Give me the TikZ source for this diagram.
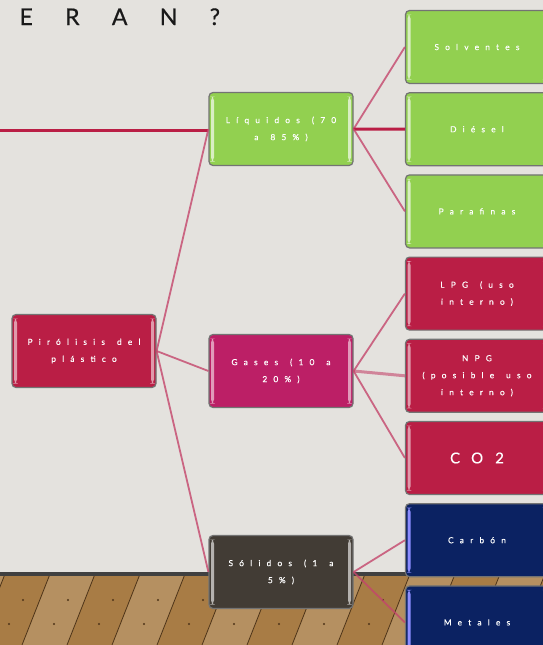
\documentclass[tikz,border=0pt]{standalone}
\usepackage{fontspec}
\usepackage{tikz}
\usetikzlibrary{positioning}
\newfontfamily\boxfont[LetterSpace=75, FakeBold=0.4]{Lato}
\newfontfamily\titlefont[LetterSpace=115, FakeBold=0.6]{Lato}
\newcommand\hueco{\hskip 12pt\relax}
\definecolor{pared}{HTML}{E4E2DE}
\definecolor{madera}{HTML}{A87C45}
\definecolor{maderaosc}{HTML}{4E3418}
\definecolor{verde}{HTML}{92D050}
\definecolor{carmin}{HTML}{BA1E45}
\definecolor{fucsia}{HTML}{BC1F66}
\definecolor{marron}{HTML}{423C35}
\definecolor{marino}{HTML}{0B2262}
\definecolor{rosa}{HTML}{C4466C}
\tikzset{
  caja/.style={rectangle, rounded corners=4pt, draw=black!55, line width=1.2pt, text=white,
    font=\boxfont\fontsize{8.3}{17}\selectfont, align=center, minimum height=73pt, inner sep=0pt},
  brillo/.style={path picture={
    \fill[#1] ([xshift=2pt,yshift=-4pt]path picture bounding box.north west) rectangle ([xshift=5pt,yshift=4pt]path picture bounding box.south west);
    \fill[#1] ([xshift=-5pt,yshift=-4pt]path picture bounding box.north east) rectangle ([xshift=-2pt,yshift=4pt]path picture bounding box.south east);}},
  medio/.style={caja, minimum width=144pt, text width=136pt},
  hoja/.style={caja, minimum width=143pt, text width=136pt},
  enlace/.style={rosa, line width=1.8pt, opacity=0.8},
  grueso/.style={carmin, line width=3pt}
}

\begin{document}
\begin{tikzpicture}[x=1pt, y=-1pt]
\clip (0,0) rectangle (543,645);
\useasboundingbox (0,0) rectangle (543,645);

% pared y suelo
\fill[pared] (0,0) rectangle (543,574);
\fill[madera] (0,574) rectangle (543,645);
\foreach \x [count=\i] in {-40,5,...,590} {
  \ifodd\i
    \fill[madera!85!white] (\x,574) -- (\x+45,574) -- (\x+17,645) -- (\x-28,645) -- cycle;
  \fi
  \draw[maderaosc, line width=0.8pt] (\x,574) -- (\x-28,645);
  \fill[maderaosc] (\x+18,600) circle (1.2pt);
  \fill[maderaosc] (\x+4,624) circle (1.2pt);
}
\fill[black!75] (0,572) rectangle (543,576);

\node[font=\titlefont\fontsize{23}{25}\selectfont, text=black!90, anchor=base west] (titulo) at (16,25) {E R A N ?};

% nodos
\node (piro) [medio, fill=carmin, brillo=carmin!45!white] at (84,351) {Pirólisis\hueco del\\ plástico};
\node (liq) [medio, fill=verde, brillo=verde!35!white] at (281,129) {Líquidos\hueco(70\\ a\hueco 85\%)};
\node (gas) [medio, fill=fucsia, brillo=fucsia!45!white] at (281,371) {Gases\hueco(10\hueco a\\ 20\%)};
\node (sol) [medio, fill=marron, brillo=marron!40!white] at (281,572) {Sólidos\hueco(1\hueco a\\ 5\%)};

\node (solv) [hoja, fill=verde, brillo=verde!35!white] at (477,47) {Solventes};
\node (dies) [hoja, fill=verde, brillo=verde!35!white, below=8pt of solv] {Diésel};
\node (para) [hoja, fill=verde, brillo=verde!35!white, below=8pt of dies] {Parafinas};
\node (lpg) [hoja, fill=carmin, brillo=carmin!45!white, below=8pt of para] {LPG\hueco(uso\\ interno)};
\node (npg) [hoja, fill=carmin, brillo=carmin!45!white, below=8pt of lpg] {NPG\\ (posible\hueco uso\\ interno)};
\node (co) [hoja, fill=carmin, brillo=carmin!45!white, below=8pt of npg, font=\boxfont\fontsize{15}{17}\selectfont] {CO\hueco 2};
\node (carb) [hoja, fill=marino, brillo=blue!45!white, below=8pt of co] {Carbón};
\node (meta) [hoja, fill=marino, brillo=blue!45!white, below=8pt of carb] {Metales};

\coordinate (borde) at (0,130);

% enlaces
\draw [grueso] (borde) -- (borde -| liq.west);
\draw [enlace] (piro.east) -- (liq.west);
\draw [enlace] (piro.east) -- (gas.west);
\draw [enlace] (piro.east) -- (sol.west);
\draw [enlace] (liq.east) -- (solv.west);
\draw [grueso] (liq.east) -- (dies.west);
\draw [enlace] (liq.east) -- (para.west);
\draw [enlace] (gas.east) -- (lpg.west);
\draw [enlace, line width=3pt, opacity=0.6] (gas.east) -- (npg.west);
\draw [enlace] (gas.east) -- (co.west);
\draw [enlace] (sol.east) -- (carb.west);
\draw [enlace] (sol.east) -- (meta.west);
\end{tikzpicture}
\end{document}
